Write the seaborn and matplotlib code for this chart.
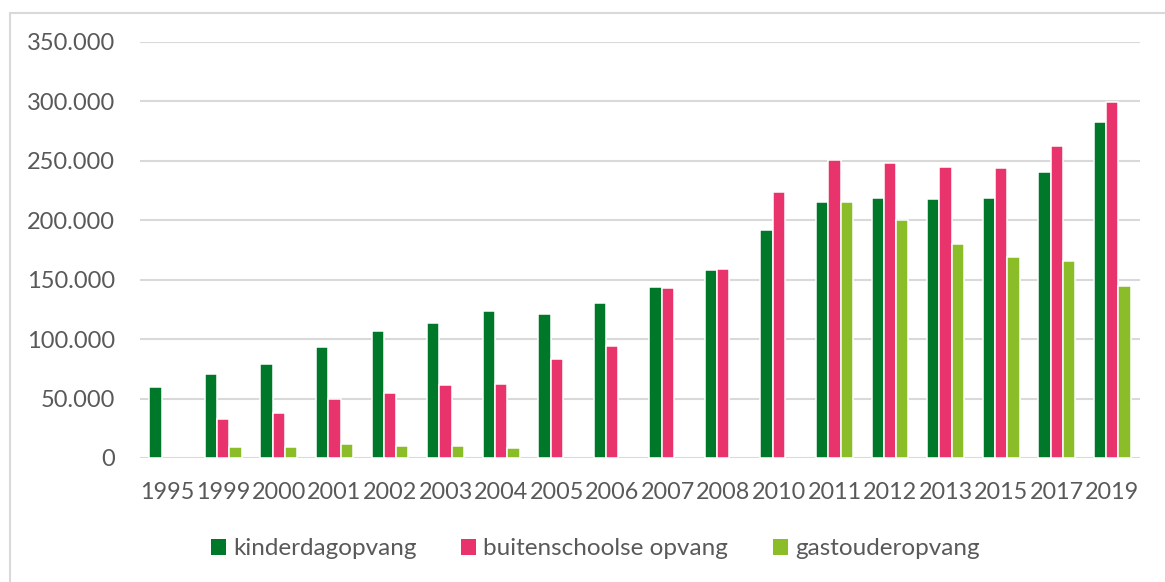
import matplotlib
matplotlib.use("Agg")
import matplotlib.pyplot as plt
import matplotlib.ticker as mticker
from matplotlib.patches import Patch
from matplotlib.lines import Line2D
import numpy as np
import pandas as pd
import seaborn as sns

# data (aantal kindplaatsen / kinderen)
jaren = ["1995", "1999", "2000", "2001", "2002", "2003", "2004", "2005", "2006",
         "2007", "2008", "2010", "2011", "2012", "2013", "2015", "2017", "2019"]
kinderdagopvang = [60000, 71000, 79000, 93000, 107000, 114000, 124000, 121000, 130000,
                   144000, 158000, 191500, 215000, 219000, 218000, 219000, 241000, 283000]
buitenschoolse_opvang = [np.nan, 32500, 37500, 49500, 55000, 61500, 62000, 83500, 94500,
                         143000, 159000, 224000, 250500, 248500, 245000, 244000, 262500, 299500]
gastouderopvang = [np.nan, 9000, 9200, 11500, 10500, 9800, 8400, np.nan, np.nan,
                   np.nan, np.nan, np.nan, 215000, 200000, 180000, 169000, 165500, 145000]

soorten = ["kinderdagopvang", "buitenschoolse opvang", "gastouderopvang"]
kleuren = ["#00782A", "#E9336C", "#8BBD28"]
tekst_kleur = "#595959"
grid_kleur = "#D9D9D9"

# long format for seaborn
df = pd.DataFrame({
    "jaar": jaren * 3,
    "soort": [soorten[0]] * len(jaren) + [soorten[1]] * len(jaren) + [soorten[2]] * len(jaren),
    "aantal": kinderdagopvang + buitenschoolse_opvang + gastouderopvang,
})

sns.set_style("white")
plt.rcParams["font.family"] = ["Lato", "DejaVu Sans"]

fig = plt.figure(figsize=(11.65, 5.82), dpi=100)
ax = fig.add_axes([140 / 1165, 124 / 582, 1000 / 1165, 416 / 582])

sns.barplot(data=df, x="jaar", y="aantal", hue="soort", order=jaren, hue_order=soorten,
            palette=kleuren, saturation=1, width=0.665, edgecolor="white", linewidth=1.1,
            errorbar=None, legend=False, ax=ax, zorder=3)

ax.set_ylim(0, 350000)
ax.set_xlim(-0.5, len(jaren) - 0.5)
ax.yaxis.set_major_locator(mticker.MultipleLocator(50000))
ax.yaxis.set_major_formatter(mticker.FuncFormatter(lambda v, p: f"{int(v):,}".replace(",", ".")))
ax.grid(axis="y", color=grid_kleur, linewidth=1.5, zorder=0)
ax.set_axisbelow(True)
for s in ax.spines.values():
    s.set_visible(False)
ax.set_xlabel("")
ax.set_ylabel("")
ax.tick_params(axis="both", length=0, colors=tekst_kleur)
ax.tick_params(axis="y", pad=18, labelsize=17)
ax.tick_params(axis="x", pad=17, labelsize=16.8)

handles = [Patch(facecolor=c, edgecolor="none") for c in kleuren]
fig.legend(handles, soorten, loc="center", bbox_to_anchor=(0.511, 0.057), ncol=3,
           frameon=False, fontsize=17.5, labelcolor=tekst_kleur,
           handlelength=0.6, handleheight=0.65, handletextpad=0.3, columnspacing=1.85)

# outer chart border (only top and left are in view)
fig.add_artist(Line2D([9.5 / 1165, 9.5 / 1165], [0, 1 - 13 / 582], color=grid_kleur, linewidth=1.5))
fig.add_artist(Line2D([9.5 / 1165, 1], [1 - 13 / 582, 1 - 13 / 582], color=grid_kleur, linewidth=1.5))

fig.savefig("out.png", dpi=100)
